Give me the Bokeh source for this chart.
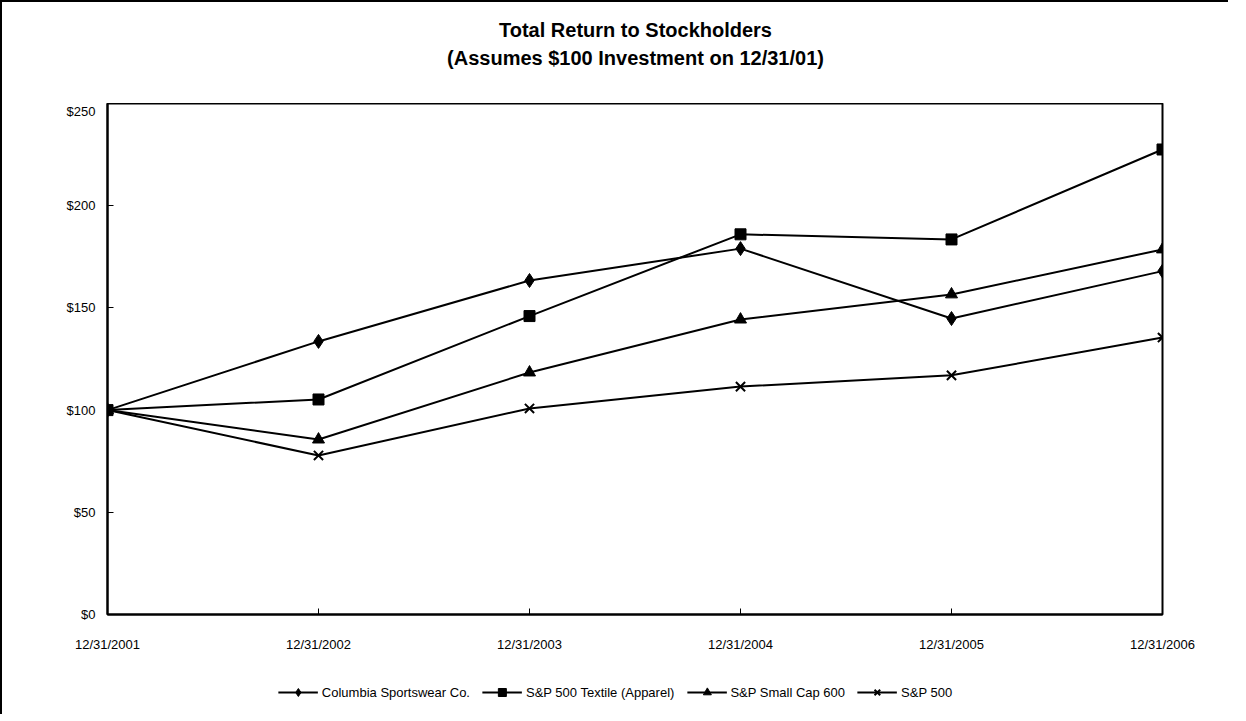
from bokeh.plotting import figure
from bokeh.layouts import column
from bokeh.models import Legend, LegendItem, FixedTicker, Range1d, NumeralTickFormatter, Label
from bokeh.embed import file_html
from bokeh.resources import INLINE

dates = ["12/31/2001", "12/31/2002", "12/31/2003", "12/31/2004", "12/31/2005", "12/31/2006"]
columbia = [100, 133.6, 163.4, 179.0, 144.8, 168.0]
textile = [100, 105.2, 146.0, 186.0, 183.5, 227.5]
smallcap = [100, 85.6, 118.4, 144.3, 156.6, 178.6]
sp500 = [100, 77.8, 100.8, 111.5, 117.0, 135.5]
y_ticks = [0, 50, 100, 150, 200, 250]
names = ["Columbia Sportswear Co.", "S&P 500 Textile (Apparel)", "S&P Small Cap 600", "S&P 500"]
title_lines = ["Total Return to Stockholders", "(Assumes $100 Investment on 12/31/01)"]

FONT = "Liberation Sans"
W = 1226
HEAD = 101
xs = list(range(len(dates)))

# header with the two centred title lines
t = figure(frame_width=W, frame_height=HEAD, output_backend="svg", toolbar_location=None,
           x_range=Range1d(0, W), y_range=Range1d(HEAD, 0),
           min_border_left=0, min_border_right=0, min_border_top=0, min_border_bottom=0)
t.axis.visible = False
t.grid.visible = False
t.outline_line_color = None
for txt, yy in zip(title_lines, [27, 55]):
    t.add_layout(Label(x=528, y=yy, x_units="screen", text=txt, text_align="center",
                       text_baseline="middle", text_font=FONT, text_font_size="20px",
                       text_font_style="bold", text_color="black"))

p = figure(frame_width=1055, frame_height=511, output_backend="svg", toolbar_location=None,
           x_range=Range1d(0, len(dates) - 1), y_range=Range1d(0, 250),
           min_border_left=105, min_border_right=66, min_border_top=0, min_border_bottom=0)
p.grid.visible = False
p.outline_line_color = "black"
p.outline_line_width = 2

p.xaxis.ticker = FixedTicker(ticks=xs)
p.xaxis.major_label_overrides = {i: d for i, d in enumerate(dates)}
p.yaxis.ticker = FixedTicker(ticks=y_ticks)
p.yaxis.formatter = NumeralTickFormatter(format="$0")
for ax in (p.xaxis, p.yaxis):
    ax.axis_line_width = 2
    ax.axis_line_color = "black"
    ax.major_tick_in = 6
    ax.major_tick_out = 0
    ax.major_tick_line_color = "black"
    ax.minor_tick_line_color = None
    ax.major_label_text_font = FONT
    ax.major_label_text_font_size = "13px"
    ax.major_label_text_color = "black"
p.xaxis.major_label_standoff = 22
p.yaxis.major_label_standoff = 12

# legend strip below the chart (its glyphs sit outside its ranges, only the legend shows)
q = figure(frame_width=W, frame_height=60, output_backend="svg", toolbar_location=None,
           x_range=Range1d(0, 1), y_range=Range1d(-2, -1),
           min_border_left=0, min_border_right=0, min_border_top=0, min_border_bottom=0)
q.axis.visible = False
q.grid.visible = False
q.outline_line_color = None

items = []
series = [(columbia, "diamond", 14), (textile, "square", 11), (smallcap, "triangle", 12), (sp500, "x", 13)]
for (vals, marker, size), name in zip(series, names):
    p.line(xs, vals, line_color="black", line_width=2)
    p.scatter(xs, vals, marker=marker, size=size, fill_color="black", line_color="black",
              line_width=2 if marker == "x" else 1)
    l1 = q.line(xs, vals, line_color="black", line_width=2)
    l2 = q.scatter(xs, vals, marker=marker, size=size - 2, fill_color="black", line_color="black",
                   line_width=2 if marker == "x" else 1)
    items.append(LegendItem(label=name, renderers=[l1, l2]))

legend = Legend(items=items, orientation="horizontal", location="bottom_center",
                label_text_font=FONT, label_text_font_size="13px", label_text_color="black",
                border_line_color=None, background_fill_alpha=0, glyph_width=40, spacing=12,
                label_standoff=4, margin=12, padding=2)
q.add_layout(legend, "center")

layout = column(t, p, q, spacing=0)
layout.styles = {"border-left": "2px solid black", "border-top": "2px solid black"}

open("out.html", "w").write(file_html(layout, INLINE))
